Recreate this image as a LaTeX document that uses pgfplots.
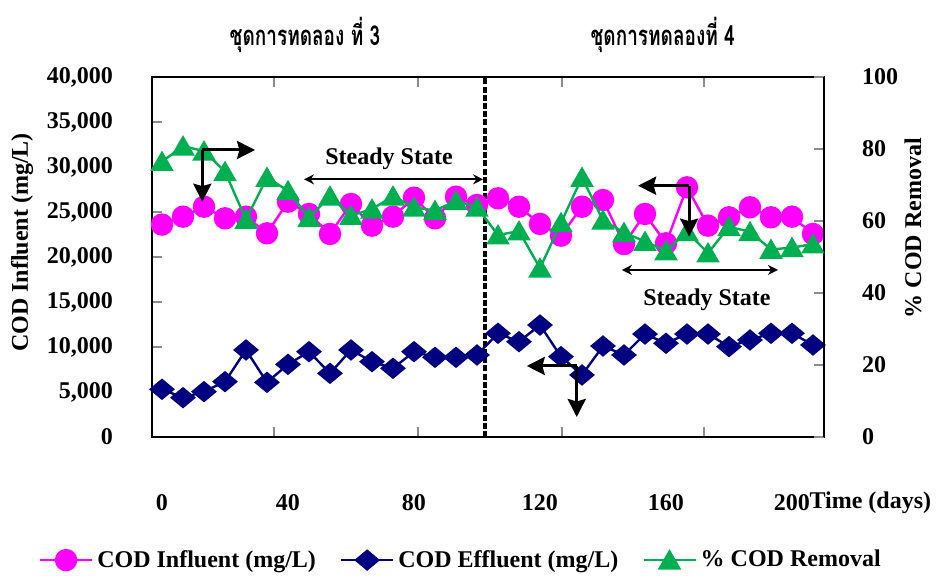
\documentclass[border=0pt]{standalone}
\usepackage{fontspec}
\setmainfont{Liberation Serif}
\newfontfamily\thaifont[Script=Thai]{Loma}
\usepackage{pgfplots}
\pgfplotsset{compat=1.18}
\usetikzlibrary{arrows.meta}
\definecolor{inf}{RGB}{255,0,255}
\definecolor{eff}{RGB}{0,0,128}
\definecolor{rem}{RGB}{0,176,80}
\definecolor{tk}{RGB}{140,140,140}
\begin{document}
\begin{tikzpicture}
\pgfplotsset{every axis/.append style={width=336pt, height=180pt, scale only axis,
  xmin=-0.476, xmax=31.524, font=\fontsize{12}{14}\selectfont\bfseries,
  tick style={draw=tk, line width=0.8pt}, major tick length=5pt,
  axis line style={line width=1pt, black},
  legend image code/.code={\draw[mark repeat=2,mark phase=2,#1] plot coordinates {(0pt,0pt) (13pt,0pt) (26pt,0pt)};}}}
\begin{axis}[name=ax, ymin=0, ymax=40000, ytick={0,5000,...,40000}, ytick pos=left,
  scaled y ticks=false,
  yticklabel style={/pgf/number format/fixed, /pgf/number format/1000 sep={,}, /pgf/number format/assume math mode=true, xshift=-16pt},
  xtick={5.33,12.19,19.05,25.81}, xticklabels={}, xtick pos=both,
  extra x ticks={0,6,12,18,24,30}, extra x tick labels={0,40,80,120,160,200},
  extra x tick style={major tick length=0pt, tick label style={anchor=center, yshift=-33pt}},
  xlabel={Time (days)}, xlabel style={at={(axis cs:30.5,0)}, anchor=west, yshift=-33pt},
  ylabel={COD Influent (mg/L)}, ylabel style={at={(axis description cs:-0.1935,0.54)}, anchor=center},
]
\addplot[inf, line width=1.2pt, mark=*, mark size=5pt] coordinates {
(0,23600) (1,24480) (2,25590) (3,24300) (4,24480) (5,22630) (6,26150) (7,24780)
(8,22560) (9,25890) (10,23480) (11,24480) (12,26590) (13,24300) (14,26700) (15,25780)
(16,26520) (17,25590) (18,23670) (19,22370) (20,25590) (21,26330) (22,21440) (23,24780)
(24,21520) (25,27740) (26,23480) (27,24410) (28,25520) (29,24410) (30,24480) (31,22560)};
\coordinate (dA) at (axis cs:15.38,0);
\coordinate (dB) at (axis cs:15.38,40000);
\draw[black, line width=1.7pt, dash pattern=on 3pt off 1.1pt] (dA) -- (dB);
\addplot[eff, line width=1.2pt, mark=diamond*, mark size=4.6pt, mark options={xscale=1.6}] coordinates {
(0,5300) (1,4370) (2,5040) (3,6150) (4,9670) (5,6070) (6,8070) (7,9480)
(8,7070) (9,9670) (10,8370) (11,7630) (12,9480) (13,8850) (14,8850) (15,9110)
(16,11520) (17,10590) (18,12440) (19,8930) (20,6890) (21,10110) (22,9110) (23,11440)
(24,10410) (25,11440) (26,11440) (27,10040) (28,10780) (29,11520) (30,11520) (31,10220)};
\coordinate (bl) at (rel axis cs:0,0);
\coordinate (tr) at (rel axis cs:1,1);
\coordinate (t1) at (rel axis cs:0.2277,1);
\coordinate (t2) at (rel axis cs:0.760,1);
\coordinate (a1c) at (axis cs:1.92,31890);
\coordinate (a1d) at (axis cs:1.92,26140);
\coordinate (a1r) at (axis cs:4.43,31890);
\coordinate (a3c) at (axis cs:25.1,27920);
\coordinate (a3l) at (axis cs:22.67,27920);
\coordinate (a3d) at (axis cs:25.1,22260);
\coordinate (a4c) at (axis cs:19.75,7890);
\coordinate (a4l) at (axis cs:17.37,7890);
\coordinate (a4d) at (axis cs:19.75,2220);
\coordinate (s1a) at (axis cs:6.76,28630);
\coordinate (s1b) at (axis cs:15.29,28630);
\coordinate (s1t) at (axis cs:10.81,30890);
\coordinate (s2a) at (axis cs:21.9,18560);
\coordinate (s2b) at (axis cs:29.33,18560);
\coordinate (s2t) at (axis cs:25.95,15220);
\end{axis}
\begin{axis}[axis x line=none, axis y line*=right, ymin=0, ymax=100, ytick={0,20,...,100},
  tick align=inside,
  yticklabel style={/pgf/number format/assume math mode=true, xshift=15.5pt},
  ylabel={\% COD Removal}, ylabel style={at={(axis description cs:1.1324,0.58)}, anchor=center},
  legend style={at={(axis description cs:0.461,-0.342)}, anchor=center, draw=none, fill=none,
    legend columns=3, /tikz/every even column/.append style={column sep=10pt},
    font=\fontsize{12}{14}\selectfont\bfseries},
  legend cell align=left,
]
\addlegendimage{inf, line width=1.2pt, mark=*, mark size=5pt}
\addlegendentry{COD Influent (mg/L)}
\addlegendimage{eff, line width=1.2pt, mark=diamond*, mark size=4.6pt, mark options={xscale=1.6}}
\addlegendentry{COD Effluent (mg/L)}
\addplot[rem, line width=1.2pt, mark=triangle*, mark size=5.6pt, mark options={yshift=-1.3pt}] coordinates {
(0,76.5) (1,80.8) (2,79.4) (3,73.7) (4,60.4) (5,72.1) (6,68.4) (7,60.9)
(8,66.9) (9,61.5) (10,63.3) (11,66.9) (12,63.8) (13,62.9) (14,65.6) (15,63.8)
(16,56.1) (17,57.2) (18,46.9) (19,59.5) (20,72.1) (21,60.2) (22,56.8) (23,54.3)
(24,51.7) (25,57.0) (26,51.1) (27,58.4) (28,57.0) (29,52.1) (30,52.6) (31,53.6)};
\addlegendentry{\% COD Removal}
\end{axis}
\tikzset{bigarr/.style={black, line width=1.5pt, -{Stealth[length=9pt,width=9pt,inset=1.2pt]}}}
\draw[bigarr] (a1c) -- (a1d);
\draw[bigarr] (a1c) -- (a1r);
\draw[bigarr] (a3c) -- (a3l);
\draw[bigarr] (a3c) -- (a3d);
\draw[bigarr] (a4c) -- (a4l);
\draw[bigarr] (a4c) -- (a4d);
\draw[black, line width=1pt, {Stealth[length=5pt,width=5pt]}-{Stealth[length=5pt,width=5pt]}] (s1a) -- (s1b);
\draw[black, line width=1pt, {Stealth[length=5pt,width=5pt]}-{Stealth[length=5pt,width=5pt]}] (s2a) -- (s2b);
\node[font=\fontsize{12}{14}\selectfont\bfseries] at (s1t) {Steady State};
\node[font=\fontsize{12}{14}\selectfont\bfseries] at (s2t) {Steady State};
\node[font=\fontsize{12.5}{14}\selectfont\thaifont\bfseries, yshift=21pt, xscale=0.76, yscale=1.1] at (t1) {ชุดการทดลอง ที่ 3};
\node[font=\fontsize{12.5}{14}\selectfont\thaifont\bfseries, yshift=21pt, xscale=0.76, yscale=1.1] at (t2) {ชุดการทดลองที่ 4};
\pgfresetboundingbox
\path ([shift={(-76pt,-69.5pt)}]bl) rectangle ([shift={(56pt,38.5pt)}]tr);
\end{tikzpicture}
\end{document}
